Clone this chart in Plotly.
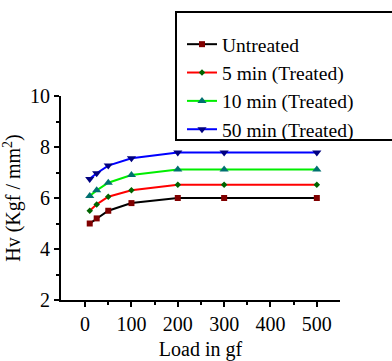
import plotly.graph_objects as go

load = [10, 25, 50, 100, 200, 300, 500]
untreated = [5.0, 5.2, 5.5, 5.8, 6.0, 6.0, 6.0]
t5 = [5.5, 5.75, 6.05, 6.3, 6.52, 6.52, 6.52]
t10 = [6.08, 6.3, 6.6, 6.9, 7.12, 7.12, 7.12]
t50 = [6.75, 6.97, 7.27, 7.56, 7.78, 7.78, 7.78]

names = ["Untreated", "5 min (Treated)", "10 min (Treated)", "50 min (Treated)"]
series = [untreated, t5, t10, t50]
line_colors = ["#000000", "#ff0000", "#00ee00", "#0000ff"]
marker_colors = ["#800000", "#006400", "#007070", "#000080"]
symbols = ["square", "diamond", "triangle-up", "triangle-down"]
sizes = [6, 5, 8, 8]

font = "Liberation Serif, DejaVu Serif, serif"

FW, FH = 392, 361
L, R, T, B = 61, 340, 96, 300
W, H = R - L, B - T

def px(x):
    return (x - L) / W

def py(y):
    return (B - y) / H

fig = go.Figure()
for i, (n, s) in enumerate(zip(names, series)):
    fig.add_trace(go.Scatter(
        x=load, y=s, name=n, mode="lines+markers",
        line=dict(color=line_colors[i], width=2),
        marker=dict(symbol=symbols[i], size=sizes[i], color=marker_colors[i]),
    ))

fig.add_shape(type="rect", xref="paper", yref="paper",
              x0=px(176), x1=px(400), y0=py(140), y1=py(12),
              line=dict(color="black", width=2), fillcolor="white", layer="below")

fig.update_layout(
    width=FW, height=FH,
    margin=dict(l=L, r=FW - R, t=T, b=FH - B, autoexpand=False),
    paper_bgcolor="white", plot_bgcolor="rgba(0,0,0,0)",
    font=dict(family=font, size=19, color="black"),
    showlegend=True,
    legend=dict(
        x=px(182), y=py(25), xref="paper", yref="paper",
        xanchor="left", yanchor="top",
        borderwidth=0, bgcolor="rgba(0,0,0,0)",
        font=dict(family=font, size=19.5),
        itemwidth=30,
    ),
    xaxis=dict(
        range=[-52, 550], tickvals=[0, 100, 200, 300, 400, 500],
        showline=True, linecolor="black", linewidth=2,
        ticks="outside", ticklen=5, tickwidth=2, tickcolor="black",
        minor=dict(tickvals=[50, 150, 250, 350, 450], ticks="outside", ticklen=3, tickwidth=1.5, tickcolor="black"),
        showgrid=False, zeroline=False,
        tickfont=dict(size=20),
        title=dict(text="Load in gf", font=dict(size=20), standoff=14),
    ),
    yaxis=dict(
        range=[2, 10], tickvals=[2, 4, 6, 8, 10],
        showline=True, linecolor="black", linewidth=2,
        ticks="outside", ticklen=5, tickwidth=2, tickcolor="black",
        minor=dict(tickvals=[3, 5, 7, 9], ticks="outside", ticklen=3, tickwidth=1.5, tickcolor="black"),
        showgrid=False, zeroline=False,
        tickfont=dict(size=20),
        title=dict(text="Hv (Kgf / mm<sup>2</sup>)", font=dict(size=20), standoff=6),
    ),
)

fig.write_html("out.html", config={"displayModeBar": False},
               post_script="document.body.style.margin='0';")
